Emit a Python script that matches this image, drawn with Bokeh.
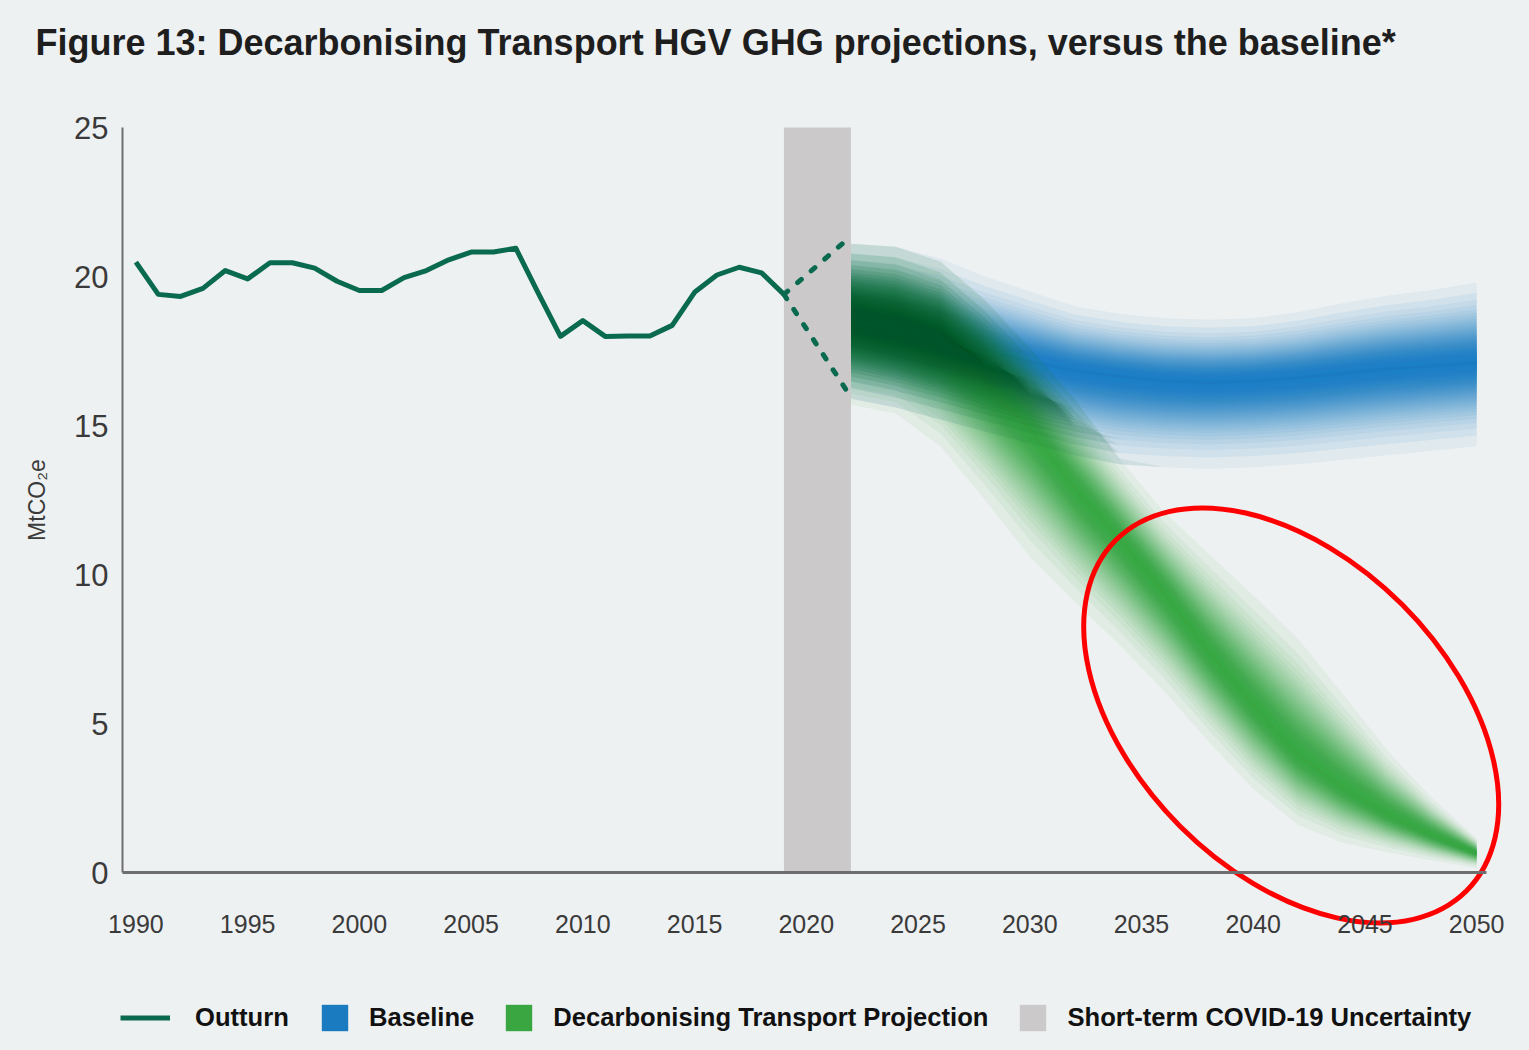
import numpy as np
from bokeh.plotting import figure
from bokeh.models import Range1d, FixedTicker, Legend, LegendItem
from bokeh.core.properties import value
from bokeh.embed import file_html
from bokeh.resources import INLINE

# ---------------- data ----------------
TITLE = "Figure 13: Decarbonising Transport HGV GHG projections, versus the baseline*"
Y_LABEL = "MtCO₂e"

outturn_years = list(range(1990, 2020))
outturn_values = [20.48, 19.40, 19.33, 19.60, 20.20, 19.92, 20.46, 20.46, 20.28, 19.84,
                  19.53, 19.53, 19.96, 20.20, 20.56, 20.82, 20.82, 20.95, 19.45, 17.99,
                  18.52, 17.99, 18.00, 18.00, 18.36, 19.47, 20.05, 20.31, 20.12, 19.40]

covid_years = [2019, 2022]
covid_high = [19.40, 21.35]
covid_low = [19.40, 15.95]

proj_years = [2022, 2024, 2026, 2028, 2030, 2032, 2034, 2036, 2038, 2040, 2042, 2044, 2046, 2048, 2050]
baseline_mid = [18.6, 18.2, 17.9, 17.5, 17.15, 16.85, 16.65, 16.5, 16.45, 16.5, 16.6, 16.75, 16.9, 17.0, 17.1]
baseline_high = [21.1, 21.0, 20.6, 20.0, 19.5, 19.0, 18.75, 18.6, 18.55, 18.6, 18.8, 19.1, 19.35, 19.55, 19.8]
baseline_low = [15.9, 15.6, 15.2, 14.8, 14.4, 14.0, 13.7, 13.6, 13.55, 13.6, 13.7, 13.85, 14.0, 14.15, 14.3]
decarb_mid = [18.5, 18.35, 17.7, 16.4, 14.9, 12.9, 11.2, 9.4, 7.4, 5.6, 3.95, 2.85, 1.95, 1.25, 0.65]
decarb_high = [21.1, 21.0, 20.5, 19.2, 17.6, 15.9, 13.9, 12.1, 10.7, 9.3, 7.85, 6.0, 4.1, 2.5, 1.15]
decarb_low = [15.7, 15.4, 14.3, 12.5, 10.6, 9.1, 7.65, 6.1, 4.4, 2.8, 1.6, 1.0, 0.68, 0.4, 0.15]

covid_band_start = 2019
covid_band_end = 2022

x_ticks = [1990, 1995, 2000, 2005, 2010, 2015, 2020, 2025, 2030, 2035, 2040, 2045, 2050]
y_ticks = [0, 5, 10, 15, 20, 25]

legend_labels = ["Outturn", "Baseline", "Decarbonising Transport Projection", "Short-term COVID-19 Uncertainty"]

# highlighted region (red ellipse annotation)
highlight_year = 2041.7
highlight_value = 5.27

# axis extents
AX_X0, AX_X1 = 1989.4, 2050.45
AX_Y0, AX_Y1 = 0, 25

# ---------------- style / layout ----------------
BG = "#EEF1F2"
C_OUT = "#0A6A4F"
C_BLUE = "#1B7BC1"
C_GREEN = "#3AA641"
C_DARK = "#07512F"
C_GREY = "#CBC9CA"
C_AXIS = "#6E6E6E"

W, H = 1513, 1034
FRAME_TOP = 82           # px: top of drawing frame (title panel sits above it)
AXIS_TOP_PX = 127        # px: where 25 sits
AXIS_LEFT_PX = 122       # px: where the y axis sits
PX_YEAR = 22.346
PX_UNIT = 29.8
X0 = AX_X0 - AXIS_LEFT_PX / PX_YEAR
X1 = AX_X0 + (W - AXIS_LEFT_PX) / PX_YEAR
Y1 = AX_Y1 + (AXIS_TOP_PX - FRAME_TOP) / PX_UNIT
Y0 = AX_Y1 - (H - AXIS_TOP_PX) / PX_UNIT

p = figure(width=W, height=H, x_range=Range1d(X0, X1), y_range=Range1d(Y0, Y1),
           output_backend="svg", toolbar_location=None, title=TITLE,
           min_border_left=0, min_border_right=0, min_border_top=FRAME_TOP, min_border_bottom=0,
           background_fill_color=BG, border_fill_color=BG, outline_line_color=None)

p.title.text_font = "Liberation Sans"
p.title.text_font_size = "36px"
p.title.text_font_style = "bold"
p.title.text_color = "#1E1E1E"
p.title.align = "left"
p.title.vertical_align = "top"
p.title.offset = 35
p.title.standoff = 36

p.grid.visible = False

# axes (drawn at fixed data locations inside the extended frame)
for ax in (p.xaxis[0], p.yaxis[0]):
    ax.major_tick_line_color = None
    ax.minor_tick_line_color = None
    ax.major_tick_in = 0
    ax.major_tick_out = 0
    ax.axis_line_color = C_AXIS
    ax.major_label_text_color = "#3A3A3A"
    ax.major_label_text_font = "Liberation Sans"

xa = p.xaxis[0]
xa.ticker = FixedTicker(ticks=x_ticks)
xa.fixed_location = AX_Y0
xa.bounds = (AX_X0, AX_X1)
xa.axis_line_width = 3
xa.major_label_standoff = 42
xa.major_label_text_font_size = "25px"

ya = p.yaxis[0]
ya.ticker = FixedTicker(ticks=y_ticks)
ya.fixed_location = AX_X0
ya.bounds = (AX_Y0, AX_Y1)
ya.axis_line_width = 2
ya.major_label_standoff = 14
ya.major_label_text_font_size = "31px"

# y-axis title
p.text(x=[AX_X0 - 86 / PX_YEAR], y=[(AX_Y0 + AX_Y1) / 2], text=[Y_LABEL], angle=np.pi / 2,
       text_align="center", text_baseline="middle", text_font=value("Liberation Sans"),
       text_font_size="23px", text_color="#3A3A3A")

# covid uncertainty band
covid_r = p.quad(left=[covid_band_start], right=[covid_band_end], bottom=[AX_Y0], top=[AX_Y1],
                 fill_color=C_GREY, line_color=None)

# fans: stacked translucent bands giving a soft (gaussian-like) fade from centre to edge
A = 0.07
K = int(np.log(0.03) / np.log(1 - A))
cover = 1 - (1 - A) ** np.arange(1, K + 1)
fracs = np.sqrt(-np.log(np.clip(cover / 0.97, 1e-6, 1)) / 2.6)
fracs = np.clip(fracs, 0.02, 1.0)           # widest first
yrs = np.array(proj_years, dtype=float)
bm, bh, bl = map(np.array, (baseline_mid, baseline_high, baseline_low))
gm, gh, gl = map(np.array, (decarb_mid, decarb_high, decarb_low))

blue_core = green_core = None
for i, f in enumerate(fracs):
    r = p.varea(x=yrs, y1=bm - f * (bm - bl), y2=bm + f * (bh - bm), fill_color=C_BLUE,
                fill_alpha=1.0 if i == K - 1 else A)
    blue_core = r
for i, f in enumerate(fracs):
    r = p.varea(x=yrs, y1=gm - f * (gm - gl), y2=gm + f * (gh - gm), fill_color=C_GREEN,
                fill_alpha=1.0 if i == K - 1 else A)
    green_core = r
# overlap (multiply-like darkening where both fans coincide)
for f in fracs:
    lo = np.maximum(gm - f * (gm - gl), bm - f * (bm - bl))
    hi = np.minimum(gm + f * (gh - gm), bm + f * (bh - bm))
    hi = np.maximum(hi, lo)
    p.varea(x=yrs, y1=lo, y2=hi, fill_color=C_DARK, fill_alpha=A)

# outturn + covid dashed range
out_r = p.line(outturn_years, outturn_values, line_color=C_OUT, line_width=5, line_join="round")
p.line(covid_years, covid_high, line_color=C_OUT, line_width=5, line_dash="5 13", line_cap="round")
p.line(covid_years, covid_low, line_color=C_OUT, line_width=5, line_dash="5 13", line_cap="round")

# red ellipse annotation
p.ellipse(x=[highlight_year], y=[highlight_value], width=496, height=314,
          width_units="screen", height_units="screen", angle=-np.pi / 4,
          fill_alpha=0, line_color="#FF0000", line_width=5)

def make_legend(items, x_left, gw, standoff):
    lg = Legend(items=items, orientation="horizontal", location=(x_left, 0),
                glyph_width=gw, glyph_height=33, label_standoff=standoff, spacing=28,
                padding=0, margin=0, border_line_color=None, background_fill_alpha=0,
                label_text_font="Liberation Sans", label_text_font_style="bold",
                label_text_font_size="25.6px", label_text_color="#111111",
                label_height=33)
    p.add_layout(lg)

make_legend([LegendItem(label=legend_labels[0], renderers=[out_r])], 120, 50, 25)
make_legend([LegendItem(label=legend_labels[1], renderers=[blue_core]),
             LegendItem(label=legend_labels[2], renderers=[green_core]),
             LegendItem(label=legend_labels[3], renderers=[covid_r])], 318, 33, 18)

html = file_html(p, INLINE, title="Figure 13")
html = html.replace("</head>", "<style>html, body { background-color: %s; }</style>\n</head>" % BG, 1)
open("out.html", "w").write(html)
